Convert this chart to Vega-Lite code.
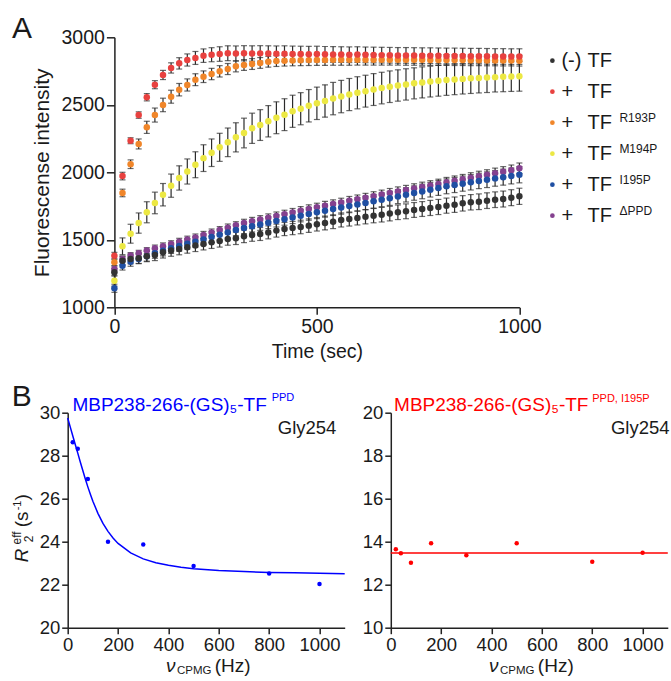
{
"$schema":"https://vega.github.io/schema/vega-lite/v6.json",
"padding":{"left":10.7,"top":13.3,"right":2,"bottom":0},
"background":"white",
"config":{"font":"Liberation Sans","view":{"stroke":null},
 "axis":{"grid":false,"domainColor":"#222","tickColor":"#222","labelColor":"#1a1a1a","titleColor":"#1a1a1a","domainWidth":1.5,"tickWidth":1.5,"titleFontWeight":"normal","labelFont":"Liberation Sans","titleFont":"Liberation Sans","labelFlush":false,"labelOverlap":false},
 "text":{"font":"Liberation Sans","color":"#1a1a1a"}},
"datasets":{"fl":[
{"s":"ΔPPD","t":0,"v":1284,"e":22},{"s":"ΔPPD","t":20,"v":1358,"e":22},{"s":"ΔPPD","t":40,"v":1383,"e":22},{"s":"ΔPPD","t":60,"v":1400,"e":22},{"s":"ΔPPD","t":80,"v":1420,"e":22},{"s":"ΔPPD","t":100,"v":1437,"e":24},{"s":"ΔPPD","t":120,"v":1453,"e":24},{"s":"ΔPPD","t":140,"v":1469,"e":24},{"s":"ΔPPD","t":160,"v":1486,"e":25},{"s":"ΔPPD","t":180,"v":1502,"e":25},{"s":"ΔPPD","t":200,"v":1518,"e":25},{"s":"ΔPPD","t":220,"v":1536,"e":26},{"s":"ΔPPD","t":240,"v":1554,"e":26},{"s":"ΔPPD","t":260,"v":1572,"e":26},{"s":"ΔPPD","t":280,"v":1590,"e":27},{"s":"ΔPPD","t":300,"v":1607,"e":27},{"s":"ΔPPD","t":320,"v":1625,"e":27},{"s":"ΔPPD","t":340,"v":1638,"e":28},{"s":"ΔPPD","t":360,"v":1651,"e":28},{"s":"ΔPPD","t":380,"v":1664,"e":28},{"s":"ΔPPD","t":400,"v":1677,"e":29},{"s":"ΔPPD","t":420,"v":1690,"e":29},{"s":"ΔPPD","t":440,"v":1703,"e":29},{"s":"ΔPPD","t":460,"v":1716,"e":30},{"s":"ΔPPD","t":480,"v":1729,"e":30},{"s":"ΔPPD","t":500,"v":1741,"e":30},{"s":"ΔPPD","t":520,"v":1753,"e":31},{"s":"ΔPPD","t":540,"v":1765,"e":31},{"s":"ΔPPD","t":560,"v":1777,"e":31},{"s":"ΔPPD","t":580,"v":1789,"e":32},{"s":"ΔPPD","t":600,"v":1800,"e":32},{"s":"ΔPPD","t":620,"v":1812,"e":32},{"s":"ΔPPD","t":640,"v":1823,"e":33},{"s":"ΔPPD","t":660,"v":1835,"e":33},{"s":"ΔPPD","t":680,"v":1847,"e":33},{"s":"ΔPPD","t":700,"v":1858,"e":34},{"s":"ΔPPD","t":720,"v":1869,"e":34},{"s":"ΔPPD","t":740,"v":1881,"e":34},{"s":"ΔPPD","t":760,"v":1892,"e":35},{"s":"ΔPPD","t":780,"v":1903,"e":35},{"s":"ΔPPD","t":800,"v":1914,"e":35},{"s":"ΔPPD","t":820,"v":1926,"e":36},{"s":"ΔPPD","t":840,"v":1937,"e":36},{"s":"ΔPPD","t":860,"v":1948,"e":36},{"s":"ΔPPD","t":880,"v":1960,"e":37},{"s":"ΔPPD","t":900,"v":1971,"e":37},{"s":"ΔPPD","t":920,"v":1982,"e":37},{"s":"ΔPPD","t":940,"v":1993,"e":38},{"s":"ΔPPD","t":960,"v":2004,"e":38},{"s":"ΔPPD","t":980,"v":2016,"e":38},{"s":"ΔPPD","t":1000,"v":2030,"e":39},
{"s":"I195P","t":0,"v":1141,"e":30},{"s":"I195P","t":20,"v":1308,"e":32},{"s":"I195P","t":40,"v":1338,"e":34},{"s":"I195P","t":60,"v":1358,"e":35},{"s":"I195P","t":80,"v":1378,"e":36},{"s":"I195P","t":100,"v":1400,"e":37},{"s":"I195P","t":120,"v":1419,"e":38},{"s":"I195P","t":140,"v":1437,"e":38},{"s":"I195P","t":160,"v":1454,"e":39},{"s":"I195P","t":180,"v":1470,"e":39},{"s":"I195P","t":200,"v":1486,"e":40},{"s":"I195P","t":220,"v":1503,"e":40},{"s":"I195P","t":240,"v":1521,"e":41},{"s":"I195P","t":260,"v":1538,"e":41},{"s":"I195P","t":280,"v":1555,"e":42},{"s":"I195P","t":300,"v":1572,"e":42},{"s":"I195P","t":320,"v":1588,"e":43},{"s":"I195P","t":340,"v":1601,"e":43},{"s":"I195P","t":360,"v":1614,"e":44},{"s":"I195P","t":380,"v":1627,"e":44},{"s":"I195P","t":400,"v":1640,"e":45},{"s":"I195P","t":420,"v":1653,"e":45},{"s":"I195P","t":440,"v":1666,"e":46},{"s":"I195P","t":460,"v":1679,"e":46},{"s":"I195P","t":480,"v":1692,"e":47},{"s":"I195P","t":500,"v":1704,"e":47},{"s":"I195P","t":520,"v":1716,"e":48},{"s":"I195P","t":540,"v":1728,"e":48},{"s":"I195P","t":560,"v":1739,"e":49},{"s":"I195P","t":580,"v":1750,"e":49},{"s":"I195P","t":600,"v":1762,"e":50},{"s":"I195P","t":620,"v":1773,"e":50},{"s":"I195P","t":640,"v":1785,"e":51},{"s":"I195P","t":660,"v":1796,"e":51},{"s":"I195P","t":680,"v":1807,"e":52},{"s":"I195P","t":700,"v":1820,"e":52},{"s":"I195P","t":720,"v":1833,"e":53},{"s":"I195P","t":740,"v":1846,"e":53},{"s":"I195P","t":760,"v":1858,"e":54},{"s":"I195P","t":780,"v":1871,"e":54},{"s":"I195P","t":800,"v":1884,"e":55},{"s":"I195P","t":820,"v":1896,"e":55},{"s":"I195P","t":840,"v":1906,"e":56},{"s":"I195P","t":860,"v":1916,"e":56},{"s":"I195P","t":880,"v":1926,"e":57},{"s":"I195P","t":900,"v":1936,"e":57},{"s":"I195P","t":920,"v":1945,"e":58},{"s":"I195P","t":940,"v":1955,"e":58},{"s":"I195P","t":960,"v":1964,"e":59},{"s":"I195P","t":980,"v":1973,"e":59},{"s":"I195P","t":1000,"v":1982,"e":60},
{"s":"M194P","t":0,"v":1197,"e":40},{"s":"M194P","t":20,"v":1452,"e":62},{"s":"M194P","t":40,"v":1545,"e":70},{"s":"M194P","t":60,"v":1624,"e":75},{"s":"M194P","t":80,"v":1704,"e":78},{"s":"M194P","t":100,"v":1773,"e":80},{"s":"M194P","t":120,"v":1834,"e":83},{"s":"M194P","t":140,"v":1901,"e":86},{"s":"M194P","t":160,"v":1958,"e":90},{"s":"M194P","t":180,"v":2006,"e":93},{"s":"M194P","t":200,"v":2056,"e":96},{"s":"M194P","t":220,"v":2105,"e":99},{"s":"M194P","t":240,"v":2145,"e":102},{"s":"M194P","t":260,"v":2185,"e":104},{"s":"M194P","t":280,"v":2222,"e":106},{"s":"M194P","t":300,"v":2259,"e":108},{"s":"M194P","t":320,"v":2291,"e":110},{"s":"M194P","t":340,"v":2326,"e":112},{"s":"M194P","t":360,"v":2350,"e":114},{"s":"M194P","t":380,"v":2378,"e":116},{"s":"M194P","t":400,"v":2404,"e":118},{"s":"M194P","t":420,"v":2427,"e":118},{"s":"M194P","t":440,"v":2452,"e":119},{"s":"M194P","t":460,"v":2471,"e":119},{"s":"M194P","t":480,"v":2493,"e":120},{"s":"M194P","t":500,"v":2511,"e":120},{"s":"M194P","t":520,"v":2528,"e":120},{"s":"M194P","t":540,"v":2546,"e":120},{"s":"M194P","t":560,"v":2561,"e":120},{"s":"M194P","t":580,"v":2576,"e":119},{"s":"M194P","t":600,"v":2589,"e":119},{"s":"M194P","t":620,"v":2601,"e":118},{"s":"M194P","t":640,"v":2613,"e":118},{"s":"M194P","t":660,"v":2624,"e":117},{"s":"M194P","t":680,"v":2634,"e":117},{"s":"M194P","t":700,"v":2643,"e":116},{"s":"M194P","t":720,"v":2651,"e":116},{"s":"M194P","t":740,"v":2659,"e":115},{"s":"M194P","t":760,"v":2666,"e":115},{"s":"M194P","t":780,"v":2672,"e":114},{"s":"M194P","t":800,"v":2678,"e":114},{"s":"M194P","t":820,"v":2683,"e":113},{"s":"M194P","t":840,"v":2688,"e":113},{"s":"M194P","t":860,"v":2692,"e":112},{"s":"M194P","t":880,"v":2696,"e":112},{"s":"M194P","t":900,"v":2699,"e":111},{"s":"M194P","t":920,"v":2702,"e":111},{"s":"M194P","t":940,"v":2705,"e":110},{"s":"M194P","t":960,"v":2707,"e":110},{"s":"M194P","t":980,"v":2709,"e":110},{"s":"M194P","t":1000,"v":2711,"e":110},
{"s":"R193P","t":0,"v":1333,"e":25},{"s":"R193P","t":20,"v":1847,"e":28},{"s":"R193P","t":40,"v":2060,"e":32},{"s":"R193P","t":60,"v":2210,"e":37},{"s":"R193P","t":80,"v":2333,"e":45},{"s":"R193P","t":100,"v":2424,"e":52},{"s":"R193P","t":120,"v":2499,"e":50},{"s":"R193P","t":140,"v":2560,"e":48},{"s":"R193P","t":160,"v":2612,"e":46},{"s":"R193P","t":180,"v":2647,"e":45},{"s":"R193P","t":200,"v":2686,"e":44},{"s":"R193P","t":220,"v":2708,"e":43},{"s":"R193P","t":240,"v":2728,"e":42},{"s":"R193P","t":260,"v":2748,"e":42},{"s":"R193P","t":280,"v":2765,"e":41},{"s":"R193P","t":300,"v":2785,"e":41},{"s":"R193P","t":320,"v":2795,"e":40},{"s":"R193P","t":340,"v":2802,"e":40},{"s":"R193P","t":360,"v":2810,"e":40},{"s":"R193P","t":380,"v":2819,"e":40},{"s":"R193P","t":400,"v":2824,"e":40},{"s":"R193P","t":420,"v":2827,"e":40},{"s":"R193P","t":440,"v":2829,"e":40},{"s":"R193P","t":460,"v":2830,"e":40},{"s":"R193P","t":480,"v":2831,"e":40},{"s":"R193P","t":500,"v":2832,"e":40},{"s":"R193P","t":520,"v":2832,"e":40},{"s":"R193P","t":540,"v":2833,"e":40},{"s":"R193P","t":560,"v":2833,"e":40},{"s":"R193P","t":580,"v":2833,"e":40},{"s":"R193P","t":600,"v":2834,"e":40},{"s":"R193P","t":620,"v":2834,"e":40},{"s":"R193P","t":640,"v":2834,"e":40},{"s":"R193P","t":660,"v":2834,"e":40},{"s":"R193P","t":680,"v":2834,"e":40},{"s":"R193P","t":700,"v":2834,"e":40},{"s":"R193P","t":720,"v":2833,"e":40},{"s":"R193P","t":740,"v":2833,"e":40},{"s":"R193P","t":760,"v":2833,"e":40},{"s":"R193P","t":780,"v":2832,"e":40},{"s":"R193P","t":800,"v":2832,"e":40},{"s":"R193P","t":820,"v":2832,"e":40},{"s":"R193P","t":840,"v":2831,"e":40},{"s":"R193P","t":860,"v":2831,"e":40},{"s":"R193P","t":880,"v":2830,"e":40},{"s":"R193P","t":900,"v":2830,"e":40},{"s":"R193P","t":920,"v":2829,"e":40},{"s":"R193P","t":940,"v":2829,"e":40},{"s":"R193P","t":960,"v":2828,"e":40},{"s":"R193P","t":980,"v":2828,"e":40},{"s":"R193P","t":1000,"v":2827,"e":40},
{"s":"+ TF","t":0,"v":1382,"e":25},{"s":"+ TF","t":20,"v":1972,"e":28},{"s":"+ TF","t":40,"v":2234,"e":22},{"s":"+ TF","t":60,"v":2424,"e":24},{"s":"+ TF","t":80,"v":2556,"e":27},{"s":"+ TF","t":100,"v":2649,"e":30},{"s":"+ TF","t":120,"v":2721,"e":34},{"s":"+ TF","t":140,"v":2773,"e":38},{"s":"+ TF","t":160,"v":2807,"e":42},{"s":"+ TF","t":180,"v":2832,"e":45},{"s":"+ TF","t":200,"v":2847,"e":48},{"s":"+ TF","t":220,"v":2864,"e":50},{"s":"+ TF","t":240,"v":2871,"e":52},{"s":"+ TF","t":260,"v":2876,"e":54},{"s":"+ TF","t":280,"v":2882,"e":55},{"s":"+ TF","t":300,"v":2880,"e":56},{"s":"+ TF","t":320,"v":2882,"e":56},{"s":"+ TF","t":340,"v":2880,"e":57},{"s":"+ TF","t":360,"v":2881,"e":57},{"s":"+ TF","t":380,"v":2880,"e":57},{"s":"+ TF","t":400,"v":2878,"e":58},{"s":"+ TF","t":420,"v":2879,"e":58},{"s":"+ TF","t":440,"v":2877,"e":58},{"s":"+ TF","t":460,"v":2876,"e":58},{"s":"+ TF","t":480,"v":2875,"e":58},{"s":"+ TF","t":500,"v":2876,"e":58},{"s":"+ TF","t":520,"v":2874,"e":58},{"s":"+ TF","t":540,"v":2873,"e":58},{"s":"+ TF","t":560,"v":2872,"e":58},{"s":"+ TF","t":580,"v":2871,"e":58},{"s":"+ TF","t":600,"v":2872,"e":58},{"s":"+ TF","t":620,"v":2870,"e":58},{"s":"+ TF","t":640,"v":2869,"e":58},{"s":"+ TF","t":660,"v":2868,"e":58},{"s":"+ TF","t":680,"v":2867,"e":58},{"s":"+ TF","t":700,"v":2866,"e":58},{"s":"+ TF","t":720,"v":2866,"e":58},{"s":"+ TF","t":740,"v":2865,"e":58},{"s":"+ TF","t":760,"v":2864,"e":58},{"s":"+ TF","t":780,"v":2864,"e":58},{"s":"+ TF","t":800,"v":2863,"e":58},{"s":"+ TF","t":820,"v":2862,"e":58},{"s":"+ TF","t":840,"v":2862,"e":58},{"s":"+ TF","t":860,"v":2861,"e":58},{"s":"+ TF","t":880,"v":2860,"e":58},{"s":"+ TF","t":900,"v":2860,"e":58},{"s":"+ TF","t":920,"v":2859,"e":58},{"s":"+ TF","t":940,"v":2858,"e":58},{"s":"+ TF","t":960,"v":2858,"e":58},{"s":"+ TF","t":980,"v":2857,"e":58},{"s":"+ TF","t":1000,"v":2857,"e":58},
{"s":"(-) TF","t":0,"v":1259,"e":28},{"s":"(-) TF","t":20,"v":1345,"e":32},{"s":"(-) TF","t":40,"v":1358,"e":36},{"s":"(-) TF","t":60,"v":1363,"e":38},{"s":"(-) TF","t":80,"v":1378,"e":40},{"s":"(-) TF","t":100,"v":1387,"e":41},{"s":"(-) TF","t":120,"v":1407,"e":42},{"s":"(-) TF","t":140,"v":1420,"e":42},{"s":"(-) TF","t":160,"v":1432,"e":43},{"s":"(-) TF","t":180,"v":1444,"e":43},{"s":"(-) TF","t":200,"v":1457,"e":44},{"s":"(-) TF","t":220,"v":1469,"e":44},{"s":"(-) TF","t":240,"v":1481,"e":45},{"s":"(-) TF","t":260,"v":1491,"e":45},{"s":"(-) TF","t":280,"v":1506,"e":46},{"s":"(-) TF","t":300,"v":1511,"e":46},{"s":"(-) TF","t":320,"v":1526,"e":47},{"s":"(-) TF","t":340,"v":1536,"e":47},{"s":"(-) TF","t":360,"v":1543,"e":48},{"s":"(-) TF","t":380,"v":1555,"e":48},{"s":"(-) TF","t":400,"v":1568,"e":48},{"s":"(-) TF","t":420,"v":1580,"e":49},{"s":"(-) TF","t":440,"v":1587,"e":49},{"s":"(-) TF","t":460,"v":1595,"e":50},{"s":"(-) TF","t":480,"v":1605,"e":50},{"s":"(-) TF","t":500,"v":1615,"e":50},{"s":"(-) TF","t":520,"v":1624,"e":51},{"s":"(-) TF","t":540,"v":1634,"e":51},{"s":"(-) TF","t":560,"v":1647,"e":52},{"s":"(-) TF","t":580,"v":1654,"e":52},{"s":"(-) TF","t":600,"v":1662,"e":52},{"s":"(-) TF","t":620,"v":1671,"e":53},{"s":"(-) TF","t":640,"v":1679,"e":53},{"s":"(-) TF","t":660,"v":1686,"e":54},{"s":"(-) TF","t":680,"v":1694,"e":54},{"s":"(-) TF","t":700,"v":1704,"e":54},{"s":"(-) TF","t":720,"v":1711,"e":55},{"s":"(-) TF","t":740,"v":1721,"e":55},{"s":"(-) TF","t":760,"v":1728,"e":55},{"s":"(-) TF","t":780,"v":1736,"e":56},{"s":"(-) TF","t":800,"v":1743,"e":56},{"s":"(-) TF","t":820,"v":1753,"e":56},{"s":"(-) TF","t":840,"v":1760,"e":57},{"s":"(-) TF","t":860,"v":1770,"e":57},{"s":"(-) TF","t":880,"v":1778,"e":57},{"s":"(-) TF","t":900,"v":1782,"e":58},{"s":"(-) TF","t":920,"v":1790,"e":58},{"s":"(-) TF","t":940,"v":1797,"e":58},{"s":"(-) TF","t":960,"v":1802,"e":59},{"s":"(-) TF","t":980,"v":1812,"e":59},{"s":"(-) TF","t":1000,"v":1822,"e":60}
]},
"columns":1,
"spacing":20.4,
"concat":[
{"width":451.7,"height":270,
 "resolve":{"scale":{"y":"independent"}},
 "layer":[
  {"data":{"name":"fl"},
   "encoding":{"x":{"field":"t","type":"quantitative","scale":{"domain":[0,1000],"range":[46.7,451.7]},"axis":{"values":[0,500,1000],"format":"d","title":"Time (sec)","titleFontSize":19.5,"labelFontSize":19.5,"labelPadding":3,"tickSize":7,"titlePadding":7}},
     "y":{"field":"v","type":"quantitative","scale":{"domain":[1000,3000]},"axis":{"values":[1000,1500,2000,2500,3000],"format":"d","title":"Fluorescense intensity","titleFontSize":21,"labelFontSize":19.5,"labelPadding":2,"tickSize":8,"titlePadding":9,"offset":-46.7}}},
   "layer":[
    {"mark":{"type":"errorbar","ticks":{"size":6,"thickness":1.2,"color":"#2b2b2b"},"rule":{"strokeWidth":1.2,"color":"#2b2b2b"}},"encoding":{"yError":{"field":"e"}}},
    {"mark":{"type":"circle","size":42,"opacity":1},"encoding":{"color":{"field":"s","type":"nominal","scale":{"domain":["(-) TF","+ TF","R193P","M194P","I195P","ΔPPD"],"range":["#333333","#e8413f","#f0862a","#ece843","#1f4fa3","#84418f"]},"legend":null}}}
   ]},
  {"data":{"values":[{"txt":"A"}]},"mark":{"type":"text","align":"left","baseline":"alphabetic","fontSize":30},"encoding":{"text":{"field":"txt"},"x":{"datum":-252.6,"type":"quantitative","scale":{"domain":[0,1000],"range":[46.7,451.7]}},"y":{"datum":2994.8,"type":"quantitative","scale":{"domain":[1000,3000]},"axis":null}}},
  {"data":{"values":[{"s":"(-) TF","k":1,"pre":"(-)","sup":""},{"s":"+ TF","k":2,"pre":"+","sup":""},{"s":"R193P","k":3,"pre":"+","sup":"R193P"},{"s":"M194P","k":4,"pre":"+","sup":"M194P"},{"s":"I195P","k":5,"pre":"+","sup":"I195P"},{"s":"ΔPPD","k":6,"pre":"+","sup":"ΔPPD"}]},
   "encoding":{"y":{"field":"k","type":"quantitative","scale":{"domain":[0.245,8.955],"reverse":true},"axis":null}},
   "layer":[
    {"mark":{"type":"circle","size":22,"opacity":1},"encoding":{"x":{"datum":1081.5,"type":"quantitative","scale":{"domain":[0,1000],"range":[46.7,451.7]}},"color":{"field":"s","type":"nominal","scale":{"domain":["(-) TF","+ TF","R193P","M194P","I195P","ΔPPD"],"range":["#333333","#e8413f","#f0862a","#ece843","#1f4fa3","#84418f"]},"legend":null}}},
    {"mark":{"type":"text","align":"left","baseline":"alphabetic","fontSize":20,"dy":6},"encoding":{"x":{"datum":1103.7,"type":"quantitative","scale":{"domain":[0,1000],"range":[46.7,451.7]}},"text":{"field":"pre"}}},
    {"mark":{"type":"text","align":"left","baseline":"alphabetic","fontSize":20,"dy":6,"text":"TF"},"encoding":{"x":{"datum":1168,"type":"quantitative","scale":{"domain":[0,1000],"range":[46.7,451.7]}}}},
    {"mark":{"type":"text","align":"left","baseline":"alphabetic","fontSize":12,"dy":-1},"encoding":{"x":{"datum":1246.9,"type":"quantitative","scale":{"domain":[0,1000],"range":[46.7,451.7]}},"text":{"field":"sup"}}}
   ]}
 ]},
{"spacing":14.1,
 "hconcat":[
 {"width":277,"height":215,
  "layer":[
   {"data":{"values":[{"nu":0,"r2":29.75},{"nu":10,"r2":29.34},{"nu":20,"r2":28.93},{"nu":30,"r2":28.52},{"nu":40,"r2":28.12},{"nu":50,"r2":27.71},{"nu":60,"r2":27.31},{"nu":70,"r2":26.92},{"nu":80,"r2":26.55},{"nu":90,"r2":26.21},{"nu":100,"r2":25.88},{"nu":120,"r2":25.32},{"nu":140,"r2":24.85},{"nu":160,"r2":24.48},{"nu":180,"r2":24.17},{"nu":200,"r2":23.92},{"nu":250,"r2":23.48},{"nu":300,"r2":23.2},{"nu":350,"r2":23.02},{"nu":400,"r2":22.9},{"nu":450,"r2":22.81},{"nu":500,"r2":22.74},{"nu":600,"r2":22.66},{"nu":700,"r2":22.61},{"nu":800,"r2":22.57},{"nu":900,"r2":22.55},{"nu":1000,"r2":22.53},{"nu":1100,"r2":22.51}]},
    "mark":{"type":"line","color":"#0000ff","strokeWidth":1.5},
    "encoding":{"x":{"field":"nu","type":"quantitative","scale":{"domain":[0,1100]},"axis":{"values":[0,200,400,600,800,1000],"format":"d","title":null,"labelFontSize":18.5,"labelPadding":2,"tickSize":6}},
      "y":{"field":"r2","type":"quantitative","scale":{"domain":[20,30]},"axis":{"values":[20,22,24,26,28,30],"title":null,"labelFontSize":18.5,"labelPadding":2,"tickSize":6}}}},
   {"data":{"values":[{"nu":20,"r2":28.63},{"nu":40,"r2":28.32},{"nu":80,"r2":26.92},{"nu":160,"r2":24.0},{"nu":300,"r2":23.87},{"nu":500,"r2":22.87},{"nu":800,"r2":22.52},{"nu":1000,"r2":22.03}]},
    "mark":{"type":"circle","color":"#0000ff","size":20,"opacity":1},
    "encoding":{"x":{"field":"nu","type":"quantitative","scale":{"domain":[0,1100]}},"y":{"field":"r2","type":"quantitative","scale":{"domain":[20,30]}}}},
   {"data":{"values":[{"txt":"B"}]},"mark":{"type":"text","align":"left","baseline":"alphabetic","fontSize":30},"encoding":{"text":{"field":"txt"},"x":{"datum":-222,"type":"quantitative","scale":{"domain":[0,1100]}},"y":{"datum":30.31,"type":"quantitative","scale":{"domain":[20,30]}}}},
   {"data":{"values":[{"txt":"MBP238-266-(GS)₅-TF"}]},"mark":{"type":"text","align":"left","baseline":"alphabetic","fontSize":19,"color":"#0000ff"},"encoding":{"text":{"field":"txt"},"x":{"datum":18.7,"type":"quantitative","scale":{"domain":[0,1100]}},"y":{"datum":30.07,"type":"quantitative","scale":{"domain":[20,30]}}}},
   {"data":{"values":[{"txt":"PPD"}]},"mark":{"type":"text","align":"left","baseline":"alphabetic","fontSize":11,"color":"#0000ff"},"encoding":{"text":{"field":"txt"},"x":{"datum":810,"type":"quantitative","scale":{"domain":[0,1100]}},"y":{"datum":30.54,"type":"quantitative","scale":{"domain":[20,30]}}}},
   {"data":{"values":[{"txt":"Gly254"}]},"mark":{"type":"text","align":"right","baseline":"alphabetic","fontSize":18.5},"encoding":{"text":{"field":"txt"},"x":{"datum":1067,"type":"quantitative","scale":{"domain":[0,1100]}},"y":{"datum":29.0,"type":"quantitative","scale":{"domain":[20,30]}}}},
   {"data":{"values":[{"txt":"R"}]},"mark":{"type":"text","align":"left","baseline":"alphabetic","fontSize":19,"fontStyle":"italic","angle":270},"encoding":{"text":{"field":"txt"},"x":{"datum":-158.1,"type":"quantitative","scale":{"domain":[0,1100]}},"y":{"datum":23.04,"type":"quantitative","scale":{"domain":[20,30]}}}},
   {"data":{"values":[{"txt":"eff"}]},"mark":{"type":"text","align":"left","baseline":"alphabetic","fontSize":12,"angle":270},"encoding":{"text":{"field":"txt"},"x":{"datum":-185.9,"type":"quantitative","scale":{"domain":[0,1100]}},"y":{"datum":23.87,"type":"quantitative","scale":{"domain":[20,30]}}}},
   {"data":{"values":[{"txt":"2"}]},"mark":{"type":"text","align":"left","baseline":"alphabetic","fontSize":12,"angle":270},"encoding":{"text":{"field":"txt"},"x":{"datum":-138.2,"type":"quantitative","scale":{"domain":[0,1100]}},"y":{"datum":23.97,"type":"quantitative","scale":{"domain":[20,30]}}}},
   {"data":{"values":[{"txt":"(s"}]},"mark":{"type":"text","align":"left","baseline":"alphabetic","fontSize":19,"angle":270},"encoding":{"text":{"field":"txt"},"x":{"datum":-158.1,"type":"quantitative","scale":{"domain":[0,1100]}},"y":{"datum":24.67,"type":"quantitative","scale":{"domain":[20,30]}}}},
   {"data":{"values":[{"txt":"-1"}]},"mark":{"type":"text","align":"left","baseline":"alphabetic","fontSize":11,"angle":270},"encoding":{"text":{"field":"txt"},"x":{"datum":-185.9,"type":"quantitative","scale":{"domain":[0,1100]}},"y":{"datum":25.46,"type":"quantitative","scale":{"domain":[20,30]}}}},
   {"data":{"values":[{"txt":")"}]},"mark":{"type":"text","align":"left","baseline":"alphabetic","fontSize":19,"angle":270},"encoding":{"text":{"field":"txt"},"x":{"datum":-158.1,"type":"quantitative","scale":{"domain":[0,1100]}},"y":{"datum":25.92,"type":"quantitative","scale":{"domain":[20,30]}}}},
   {"data":{"values":[{"txt":"ν"}]},"mark":{"type":"text","align":"left","baseline":"alphabetic","fontSize":19,"fontStyle":"italic"},"encoding":{"text":{"field":"txt"},"x":{"datum":390,"type":"quantitative","scale":{"domain":[0,1100]}},"y":{"datum":17.95,"type":"quantitative","scale":{"domain":[20,30]}}}},
   {"data":{"values":[{"txt":"CPMG"}]},"mark":{"type":"text","align":"left","baseline":"alphabetic","fontSize":11.5},"encoding":{"text":{"field":"txt"},"x":{"datum":434,"type":"quantitative","scale":{"domain":[0,1100]}},"y":{"datum":17.86,"type":"quantitative","scale":{"domain":[20,30]}}}},
   {"data":{"values":[{"txt":"(Hz)"}]},"mark":{"type":"text","align":"left","baseline":"alphabetic","fontSize":19},"encoding":{"text":{"field":"txt"},"x":{"datum":584,"type":"quantitative","scale":{"domain":[0,1100]}},"y":{"datum":17.95,"type":"quantitative","scale":{"domain":[20,30]}}}}
  ]},
 {"width":277,"height":215,
  "layer":[
   {"data":{"values":[{"nu":0,"r2":13.47},{"nu":1100,"r2":13.47}]},
    "mark":{"type":"line","color":"#ff0000","strokeWidth":1.5},
    "encoding":{"x":{"field":"nu","type":"quantitative","scale":{"domain":[0,1100]},"axis":{"values":[0,200,400,600,800,1000],"format":"d","title":null,"labelFontSize":18.5,"labelPadding":2,"tickSize":6}},
      "y":{"field":"r2","type":"quantitative","scale":{"domain":[10,20]},"axis":{"values":[10,12,14,16,18,20],"title":null,"labelFontSize":18.5,"labelPadding":2,"tickSize":6}}}},
   {"data":{"values":[{"nu":20,"r2":13.65},{"nu":40,"r2":13.46},{"nu":80,"r2":13.02},{"nu":160,"r2":13.93},{"nu":300,"r2":13.37},{"nu":500,"r2":13.93},{"nu":800,"r2":13.07},{"nu":1000,"r2":13.49}]},
    "mark":{"type":"circle","color":"#ff0000","size":20,"opacity":1},
    "encoding":{"x":{"field":"nu","type":"quantitative","scale":{"domain":[0,1100]}},"y":{"field":"r2","type":"quantitative","scale":{"domain":[10,20]}}}},
   {"data":{"values":[{"txt":"MBP238-266-(GS)₅-TF"}]},"mark":{"type":"text","align":"left","baseline":"alphabetic","fontSize":19,"color":"#ff0000"},"encoding":{"text":{"field":"txt"},"x":{"datum":13,"type":"quantitative","scale":{"domain":[0,1100]}},"y":{"datum":20.07,"type":"quantitative","scale":{"domain":[10,20]}}}},
   {"data":{"values":[{"txt":"PPD, I195P"}]},"mark":{"type":"text","align":"left","baseline":"alphabetic","fontSize":11,"color":"#ff0000"},"encoding":{"text":{"field":"txt"},"x":{"datum":800,"type":"quantitative","scale":{"domain":[0,1100]}},"y":{"datum":20.51,"type":"quantitative","scale":{"domain":[10,20]}}}},
   {"data":{"values":[{"txt":"Gly254"}]},"mark":{"type":"text","align":"right","baseline":"alphabetic","fontSize":18.5},"encoding":{"text":{"field":"txt"},"x":{"datum":1107,"type":"quantitative","scale":{"domain":[0,1100]}},"y":{"datum":19.0,"type":"quantitative","scale":{"domain":[10,20]}}}},
   {"data":{"values":[{"txt":"ν"}]},"mark":{"type":"text","align":"left","baseline":"alphabetic","fontSize":19,"fontStyle":"italic"},"encoding":{"text":{"field":"txt"},"x":{"datum":390,"type":"quantitative","scale":{"domain":[0,1100]}},"y":{"datum":7.95,"type":"quantitative","scale":{"domain":[10,20]}}}},
   {"data":{"values":[{"txt":"CPMG"}]},"mark":{"type":"text","align":"left","baseline":"alphabetic","fontSize":11.5},"encoding":{"text":{"field":"txt"},"x":{"datum":434,"type":"quantitative","scale":{"domain":[0,1100]}},"y":{"datum":7.86,"type":"quantitative","scale":{"domain":[10,20]}}}},
   {"data":{"values":[{"txt":"(Hz)"}]},"mark":{"type":"text","align":"left","baseline":"alphabetic","fontSize":19},"encoding":{"text":{"field":"txt"},"x":{"datum":584,"type":"quantitative","scale":{"domain":[0,1100]}},"y":{"datum":7.95,"type":"quantitative","scale":{"domain":[10,20]}}}}
  ]}
 ]}
]
}
